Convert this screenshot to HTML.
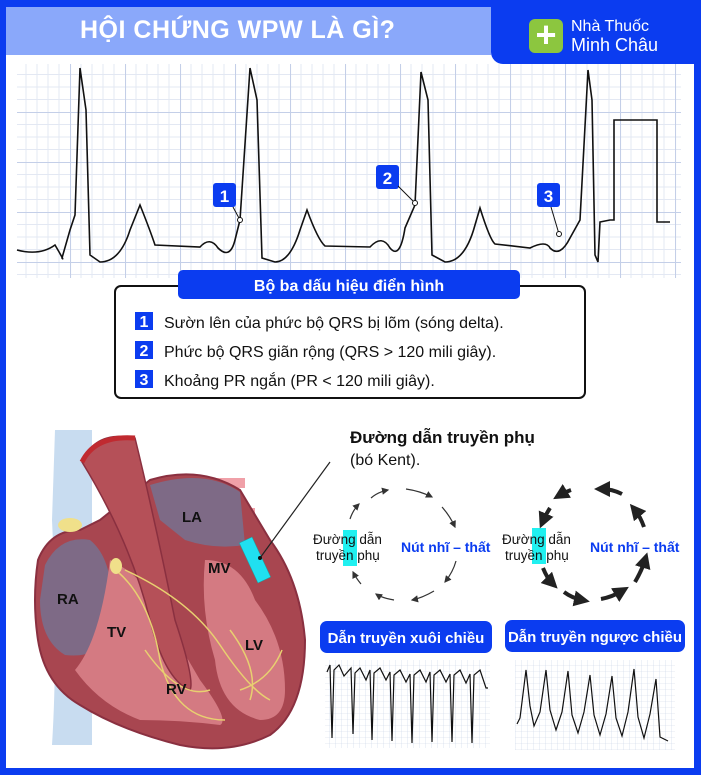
<!DOCTYPE html>
<html><head><meta charset="utf-8"><style>
*{margin:0;padding:0;box-sizing:border-box}
body{width:701px;height:775px;background:#0b3cf0;position:relative;overflow:hidden;font-family:"Liberation Sans","DejaVu Sans",sans-serif}
.inner{position:absolute;left:6px;top:7px;width:688px;height:761px;background:#fff}
.abs{position:absolute}
</style></head><body>
<div class="inner"></div>
<div class="abs" style="left:6px;top:7px;width:485px;height:48px;background:#8aa8fa"></div>
<div class="abs" style="left:80px;top:16px;color:#fff;font-weight:bold;font-size:25px;letter-spacing:0.5px">HỘI CHỨNG WPW LÀ GÌ?</div>
<div class="abs" style="left:491px;top:0;width:210px;height:64px;background:#0b3cf0;border-bottom-left-radius:12px"></div>
<div class="abs" style="left:529px;top:19px;width:34px;height:34px;background:#8cc63f;border-radius:6px;color:#fff;font-size:36px;font-weight:bold;line-height:32px;text-align:center">+</div>
<div class="abs" style="left:571px;top:17px;color:#fff;font-size:16px;line-height:19px">Nhà Thuốc<br><span style="font-size:18px">Minh Châu</span></div>

<svg class="abs" style="left:0;top:0" width="701" height="775">
<defs>
<pattern id="g" x="15" y="62" width="55" height="50" patternUnits="userSpaceOnUse"><path d="M11 0V50M22 0V50M33 0V50M44 0V50M0 12.5H55M0 25H55M0 37.5H55" stroke="#e3e8f3" stroke-width="1" fill="none"/><path d="M0.5 0V50M0 0.5H55" stroke="#c4cfe8" stroke-width="1.1" fill="none"/></pattern>
<pattern id="g2" width="6" height="6" patternUnits="userSpaceOnUse"><path d="M6 0V6M0 6H6" stroke="#c9d2e6" stroke-width="0.6" fill="none"/></pattern>
<marker id="a" markerWidth="6" markerHeight="6" refX="5" refY="3" orient="auto"><path d="M0 0L6 3L0 6z" fill="#333"/></marker>
<marker id="b" markerWidth="4" markerHeight="4" refX="2" refY="2" orient="auto"><path d="M0 0L4 2L0 4z" fill="#222"/></marker>
</defs>
<rect x="17" y="64" width="664" height="214" fill="url(#g)"/>
<path d="M17 250 Q40 256 55 245 Q65 262 62 258 L70 230 L75 215 L80 68 L86 110 L90 255 L100 262 Q120 262 130 230 L140 205 Q150 230 155 245 L200 247 Q210 236 218 248 Q230 260 235 240 L240 220 L250 68 L257 100 L262 258 L275 262 Q290 262 300 230 L307 210 Q318 240 325 246 L370 247 Q382 234 390 248 Q400 260 405 228 L415 205 L421 72 L428 100 L432 255 L445 262 Q465 262 475 225 L480 208 Q490 240 495 244 L530 248 Q546 240 550 248 Q560 258 570 238 L580 220 L588 70 L592 100 L595 255 L598 262 L600 222 L610 220 L614 220 L614 120 L657 120 L657 222 L670 222" fill="none" stroke="#111" stroke-width="1.6"/>
<rect x="213" y="183" width="23" height="24" rx="3" fill="#0b3cf0"/><text x="224.5" y="202" font-size="17" font-weight="bold" fill="#fff" text-anchor="middle">1</text>
<line x1="233" y1="207" x2="240" y2="220" stroke="#111"/><circle cx="240" cy="220" r="2.5" fill="#fff" stroke="#111"/>
<rect x="376" y="165" width="23" height="24" rx="3" fill="#0b3cf0"/><text x="387.5" y="184" font-size="17" font-weight="bold" fill="#fff" text-anchor="middle">2</text>
<line x1="398" y1="186" x2="415" y2="203" stroke="#111"/><circle cx="415" cy="203" r="2.5" fill="#fff" stroke="#111"/>
<rect x="537" y="183" width="23" height="24" rx="3" fill="#0b3cf0"/><text x="548.5" y="202" font-size="17" font-weight="bold" fill="#fff" text-anchor="middle">3</text>
<line x1="551" y1="207" x2="559" y2="234" stroke="#111"/><circle cx="559" cy="234" r="2.5" fill="#fff" stroke="#111"/>

<rect x="115" y="286" width="470" height="112" rx="6" fill="#fff" stroke="#111" stroke-width="2"/>
<rect x="178" y="270" width="342" height="29" rx="5" fill="#0b3cf0"/>
<text x="349" y="291" font-size="16" font-weight="bold" fill="#fff" text-anchor="middle">Bộ ba dấu hiệu điển hình</text>
<g font-size="16" fill="#111">
<rect x="135" y="312" width="18" height="18" fill="#0b3cf0"/><text x="144" y="327" fill="#fff" font-weight="bold" text-anchor="middle">1</text>
<text x="164" y="328">Sườn lên của phức bộ QRS bị lõm (sóng delta).</text>
<rect x="135" y="341" width="18" height="18" fill="#0b3cf0"/><text x="144" y="356" fill="#fff" font-weight="bold" text-anchor="middle">2</text>
<text x="164" y="357">Phức bộ QRS giãn rộng (QRS &gt; 120 mili giây).</text>
<rect x="135" y="370" width="18" height="18" fill="#0b3cf0"/><text x="144" y="385" fill="#fff" font-weight="bold" text-anchor="middle">3</text>
<text x="164" y="386">Khoảng PR ngắn (PR &lt; 120 mili giây).</text>
</g>

<!-- heart -->
<path d="M55 430 L92 430 L92 745 L52 745 Q58 650 52 520z" fill="#c8dcf0"/>
<path d="M215 478 L245 478 L245 488 L215 488z M220 508 L255 508 L255 530 L220 530z" fill="#f0a0a8"/>
<path d="M38 560 Q50 530 80 530 L100 520 L150 480 Q200 465 240 490 L270 540 Q300 580 305 640 Q305 710 270 735 Q230 755 180 745 Q120 730 80 705 Q45 685 38 640 Q32 600 38 560z" fill="#a84650" stroke="#8a3040" stroke-width="2"/>
<path d="M45 565 Q60 535 90 540 Q115 560 112 620 Q105 660 65 655 Q40 640 40 600z" fill="#7e6a86"/>
<path d="M150 485 Q205 468 240 492 L245 545 Q215 550 185 540 L160 520z" fill="#7e6a86"/>
<path d="M110 560 Q150 580 165 620 L200 680 Q230 720 220 725 Q180 720 140 720 Q100 705 75 670 Q100 640 110 560z" fill="#d47a82"/>
<path d="M205 560 Q240 560 255 600 Q285 640 285 690 Q285 720 260 720 Q220 710 215 660 Q200 610 205 560z" fill="#d47a82"/>
<path d="M82 462 Q95 430 135 438 Q155 520 175 620 Q195 680 190 690 Q165 680 150 620 Q130 540 82 462z" fill="#b55058" stroke="#8a3040" stroke-width="1.5"/>
<path d="M82 462 Q95 435 135 438" stroke="#c02a30" stroke-width="5" fill="none"/>
<path d="M118 572 Q150 600 160 660 Q175 720 225 720 M125 570 Q190 600 220 645 Q250 690 270 700 M145 650 Q180 700 210 690 M230 630 Q260 670 250 700 M240 690 Q270 680 282 650" stroke="#e8d070" stroke-width="1.5" fill="none"/>
<ellipse cx="70" cy="525" rx="12" ry="7" fill="#f0e08a"/>
<ellipse cx="116" cy="566" rx="6" ry="8" fill="#f0e08a"/>
<rect x="248" y="538" width="14" height="44" fill="#20e0f0" stroke="#1aa" stroke-width="0.5" transform="rotate(-25 255 560)"/>
<line x1="260" y1="558" x2="330" y2="462" stroke="#222" stroke-width="1.2"/>
<circle cx="260" cy="558" r="2" fill="#111"/>
<g font-size="15" font-weight="bold" fill="#111">
<text x="57" y="604">RA</text><text x="107" y="637">TV</text><text x="166" y="694">RV</text>
<text x="245" y="650">LV</text><text x="208" y="573">MV</text><text x="182" y="522">LA</text>
</g>

<text x="350" y="443" font-size="17" font-weight="bold" fill="#111">Đường dẫn truyền phụ</text>
<text x="350" y="465" font-size="16" fill="#111">(bó Kent).</text>

<rect x="343" y="530" width="14" height="36" fill="#20f0f0"/>
<rect x="532" y="528" width="14" height="36" fill="#20f0f0"/>
<g font-size="13.5" fill="#111">
<text x="313" y="544">Đường dẫn</text><text x="316" y="560">truyền phụ</text>
<text x="502" y="544">Đường dẫn</text><text x="505" y="560">truyền phụ</text>
</g>
<g font-size="14" font-weight="bold" fill="#0b3cf0">
<text x="401" y="552">Nút nhĩ – thất</text><text x="590" y="552">Nút nhĩ – thất</text>
</g>
<g stroke="#333" stroke-width="1.2" fill="none" marker-end="url(#a)">
<path d="M371 498 Q378 492 388 490"/><path d="M406 489 Q420 491 432 497"/>
<path d="M442 507 Q450 516 455 527"/><path d="M456 561 Q453 572 445 582"/>
<path d="M434 591 Q422 598 412 600"/><path d="M394 600 Q382 598 376 594"/>
<path d="M361 584 Q356 578 353 572"/><path d="M350 519 Q353 510 359 504"/>
</g>
<g stroke="#222" stroke-width="4" fill="none" marker-end="url(#b)">
<path d="M571 490 Q565 492 560 495"/><path d="M622 494 Q612 489 602 489"/>
<path d="M644 527 Q640 516 635 510"/><path d="M635 582 Q642 570 645 560"/>
<path d="M601 599 Q612 597 622 591"/><path d="M564 592 Q572 598 582 600"/>
<path d="M543 568 Q547 578 552 583"/><path d="M550 508 Q546 514 543 521"/>
</g>

<rect x="320" y="621" width="172" height="32" rx="7" fill="#0b3cf0"/>
<text x="406" y="643" font-size="15" font-weight="bold" fill="#fff" text-anchor="middle">Dẫn truyền xuôi chiều</text>
<rect x="505" y="620" width="180" height="32" rx="7" fill="#0b3cf0"/>
<text x="595" y="642" font-size="15" font-weight="bold" fill="#fff" text-anchor="middle">Dẫn truyền ngược chiều</text>

<rect x="325" y="660" width="165" height="88" fill="url(#g2)"/>
<rect x="515" y="660" width="160" height="90" fill="url(#g2)"/>
<path d="M327 672 L330 665 L332 738 L334 670 L339 665 L344 676 L351 668 L353 734 L355 673 L360 668 L366 680 L370 670 L372 740 L374 673 L380 668 L386 680 L390 672 L392 741 L394 675 L400 670 L406 682 L410 674 L412 743 L414 675 L420 670 L426 682 L430 672 L432 742 L434 675 L440 670 L446 682 L450 674 L452 742 L454 675 L460 670 L466 683 L470 674 L472 743 L474 675 L480 670 L486 688 L488 688" fill="none" stroke="#111" stroke-width="1.2"/>
<path d="M517 724 L520 718 L526 670 L530 706 L534 726 L540 712 L546 670 L550 710 L556 730 L562 712 L568 671 L572 715 L578 733 L584 712 L590 675 L594 715 L600 735 L606 714 L612 676 L616 718 L622 736 L628 712 L634 669 L638 717 L644 738 L650 714 L656 679 L660 737 L668 741" fill="none" stroke="#111" stroke-width="1.2"/>
</svg>
</body></html>
